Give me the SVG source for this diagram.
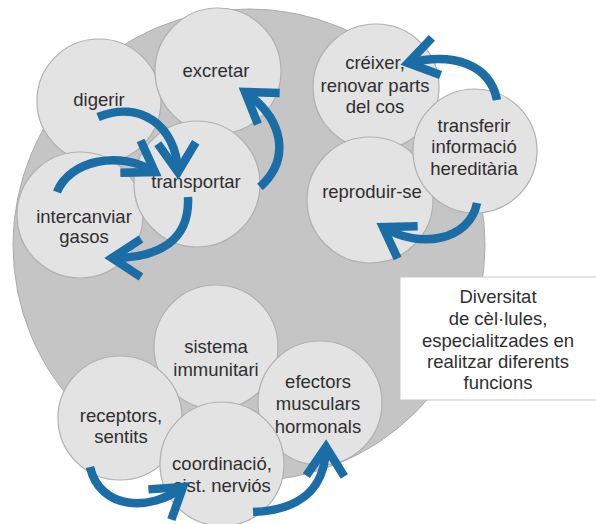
<svg xmlns="http://www.w3.org/2000/svg" width="596" height="524" viewBox="0 0 596 524">
<defs>
<style>
.bg{fill:#c5c5c5;stroke:#ababab;stroke-width:1}
.n{fill:#e3e3e3;stroke:#b0b0b0;stroke-width:1.2}
.t{font-family:"Liberation Sans",Arial,sans-serif;font-size:18.5px;fill:#2f2f2f;text-anchor:middle}
.a{fill:none;stroke:#1b6ea5;stroke-width:8.5;marker-end:url(#chev)}
.box{fill:#fff;stroke:#c8c8c8;stroke-width:1}
</style>
<marker id="chev" markerUnits="userSpaceOnUse" orient="auto" markerWidth="44" markerHeight="48" viewBox="-38 -24 44 48" refX="0" refY="0" overflow="visible">
<path d="M-29,-19 L0,0 L-29,19" fill="none" stroke="#1b6ea5" stroke-width="8.5" stroke-linejoin="miter"/>
</marker>
</defs>
<rect width="596" height="524" fill="#fff"/>
<circle class="bg" cx="249" cy="245" r="236"/>
<g id="node-digerir"><circle class="n" cx="99" cy="101" r="62"/><text class="t" x="99" y="106">digerir</text></g>
<g id="node-excretar"><circle class="n" cx="218" cy="71" r="63"/><text class="t" x="216" y="77">excretar</text></g>
<g id="node-intercanviar"><circle class="n" cx="80" cy="215" r="63"/><text class="t" x="84" y="223">intercanviar</text><text class="t" x="84" y="243">gasos</text></g>
<g id="node-transportar"><circle class="n" cx="197" cy="184" r="63"/><text class="t" x="196" y="188">transportar</text></g>
<g id="node-creixer"><circle class="n" cx="376" cy="87" r="63"/><text class="t" x="375" y="69">créixer,</text><text class="t" x="375" y="92">renovar parts</text><text class="t" x="375" y="113">del cos</text></g>
<g id="node-reproduir"><circle class="n" cx="370" cy="200" r="63"/><text class="t" x="372" y="198">reproduir-se</text></g>
<g id="node-transferir"><circle class="n" cx="475" cy="151" r="62"/><text class="t" x="474" y="132">transferir</text><text class="t" x="474" y="153">informació</text><text class="t" x="474" y="175">hereditària</text></g>
<g id="node-sistema"><circle class="n" cx="216" cy="347" r="62"/><text class="t" x="216" y="353">sistema</text><text class="t" x="216" y="376">immunitari</text></g>
<g id="node-efectors"><circle class="n" cx="320" cy="403" r="62"/><text class="t" x="318" y="388">efectors</text><text class="t" x="318" y="410">musculars</text><text class="t" x="318" y="433">hormonals</text></g>
<g id="node-receptors"><circle class="n" cx="120" cy="418" r="62"/><text class="t" x="121" y="422">receptors,</text><text class="t" x="121" y="443">sentits</text></g>
<g id="node-coordinacio"><circle class="n" cx="222" cy="464" r="62"/><text class="t" x="222" y="470">coordinació,</text><text class="t" x="222" y="492">sist. nerviós</text></g>
<g id="node-box"><rect class="box" x="400" y="277" width="200" height="123"/>
<text class="t" x="498" y="303">Diversitat</text>
<text class="t" x="498" y="325">de cèl·lules,</text>
<text class="t" x="498" y="347">especialitzades en</text>
<text class="t" x="498" y="368">realitzar diferents</text>
<text class="t" x="498" y="389">funcions</text></g>
<g id="connectors">
<path class="a" d="M98,117 C140,100 176,125 178,172"/>
<path class="a" d="M57,192 C70,160 120,150 155,172"/>
<path class="a" d="M188,197 C190,240 160,258 112,258"/>
<path class="a" d="M260,187 C290,160 285,120 245,92"/>
<path class="a" d="M497,100 C490,65 455,52 408,63"/>
<path class="a" d="M477,203 C470,240 420,250 383,227"/>
<path class="a" d="M90,467 C100,510 150,512 183,487"/>
<path class="a" d="M253,512 C300,510 325,490 326,447"/>
</g>
</svg>
